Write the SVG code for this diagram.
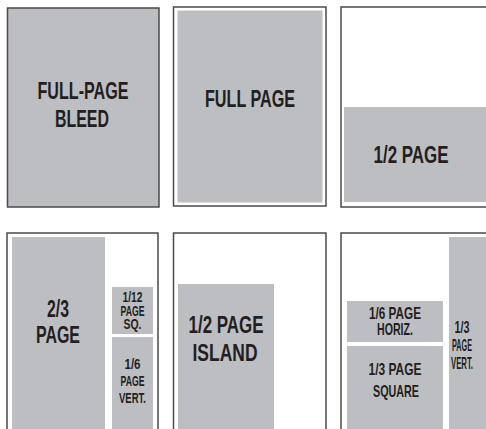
<svg xmlns="http://www.w3.org/2000/svg" width="486" height="429" viewBox="0 0 486 429">
<style>
.frame{fill:#ffffff;stroke:#4a4a4a;stroke-width:1.5}
.ad{fill:#bdbec2}
.t{font-family:"Liberation Sans",Arial,sans-serif;font-weight:bold;fill:#231f20;text-anchor:middle}
.l{font-size:23px}
.m{font-size:17px}
.s{font-size:15px}
</style>
<rect width="486" height="429" fill="#ffffff"/>
<g id="full-page-bleed">
<rect x="7.5" y="8" width="151.5" height="199" fill="#bdbec2" stroke="#4a4a4a" stroke-width="1.5"/>
<text class="t l" x="83" y="99" textLength="91" lengthAdjust="spacingAndGlyphs">FULL-PAGE</text>
<text class="t l" x="82" y="127" textLength="54" lengthAdjust="spacingAndGlyphs">BLEED</text>
</g>
<g id="full-page">
<rect class="frame" x="173.5" y="7" width="152.5" height="199"/>
<rect class="ad" x="177.5" y="10.5" width="145" height="192"/>
<text class="t l" x="250" y="107" textLength="90" lengthAdjust="spacingAndGlyphs">FULL PAGE</text>
</g>
<g id="half-page">
<rect class="frame" x="341" y="7" width="150" height="200"/>
<rect class="ad" x="344" y="107" width="142" height="95"/>
<text class="t l" x="411" y="163" textLength="75" lengthAdjust="spacingAndGlyphs">1/2 PAGE</text>
</g>
<g id="two-thirds-page">
<rect class="frame" x="7" y="233" width="151" height="200"/>
<rect class="ad" x="12" y="237" width="93" height="192"/>
<text class="t l" x="58" y="317" textLength="22" lengthAdjust="spacingAndGlyphs">2/3</text>
<text class="t l" x="58" y="343" textLength="44" lengthAdjust="spacingAndGlyphs">PAGE</text>
</g>
<g id="twelfth-page-square">
<rect class="ad" x="112" y="287" width="41" height="47"/>
<text class="t s" x="132.5" y="302" textLength="20" lengthAdjust="spacingAndGlyphs">1/12</text>
<text class="t s" x="132.5" y="315.5" textLength="24" lengthAdjust="spacingAndGlyphs">PAGE</text>
<text class="t s" x="132.5" y="329" textLength="18" lengthAdjust="spacingAndGlyphs">SQ.</text>
</g>
<g id="sixth-page-vertical">
<rect class="ad" x="112" y="337" width="41" height="92"/>
<text class="t s" x="132.5" y="369" textLength="16" lengthAdjust="spacingAndGlyphs">1/6</text>
<text class="t s" x="132.5" y="386" textLength="24" lengthAdjust="spacingAndGlyphs">PAGE</text>
<text class="t s" x="132.5" y="403" textLength="27" lengthAdjust="spacingAndGlyphs">VERT.</text>
</g>
<g id="half-page-island">
<rect class="frame" x="173.5" y="233" width="152.5" height="200"/>
<rect class="ad" x="178" y="284" width="96" height="145"/>
<text class="t l" x="226" y="333" textLength="75" lengthAdjust="spacingAndGlyphs">1/2 PAGE</text>
<text class="t l" x="225" y="361" textLength="65" lengthAdjust="spacingAndGlyphs">ISLAND</text>
</g>
<g id="sixth-page-horizontal">
<rect class="frame" x="341" y="233" width="150" height="200"/>
<rect class="ad" x="347" y="301" width="96" height="41"/>
<text class="t m" x="395" y="319" textLength="52" lengthAdjust="spacingAndGlyphs">1/6 PAGE</text>
<text class="t m" x="395" y="335" textLength="36" lengthAdjust="spacingAndGlyphs">HORIZ.</text>
</g>
<g id="third-page-square">
<rect class="ad" x="347" y="346" width="96" height="83"/>
<text class="t m" x="395" y="375" textLength="53" lengthAdjust="spacingAndGlyphs">1/3 PAGE</text>
<text class="t m" x="396" y="397" textLength="46" lengthAdjust="spacingAndGlyphs">SQUARE</text>
</g>
<g id="third-page-vertical">
<rect class="ad" x="449" y="237" width="37" height="192"/>
<text class="t m" x="462" y="333" textLength="15" lengthAdjust="spacingAndGlyphs">1/3</text>
<text class="t m" x="462" y="351" textLength="20" lengthAdjust="spacingAndGlyphs">PAGE</text>
<text class="t m" x="462" y="369" textLength="22" lengthAdjust="spacingAndGlyphs">VERT.</text>
</g>
<g id="connectors"></g>
</svg>
